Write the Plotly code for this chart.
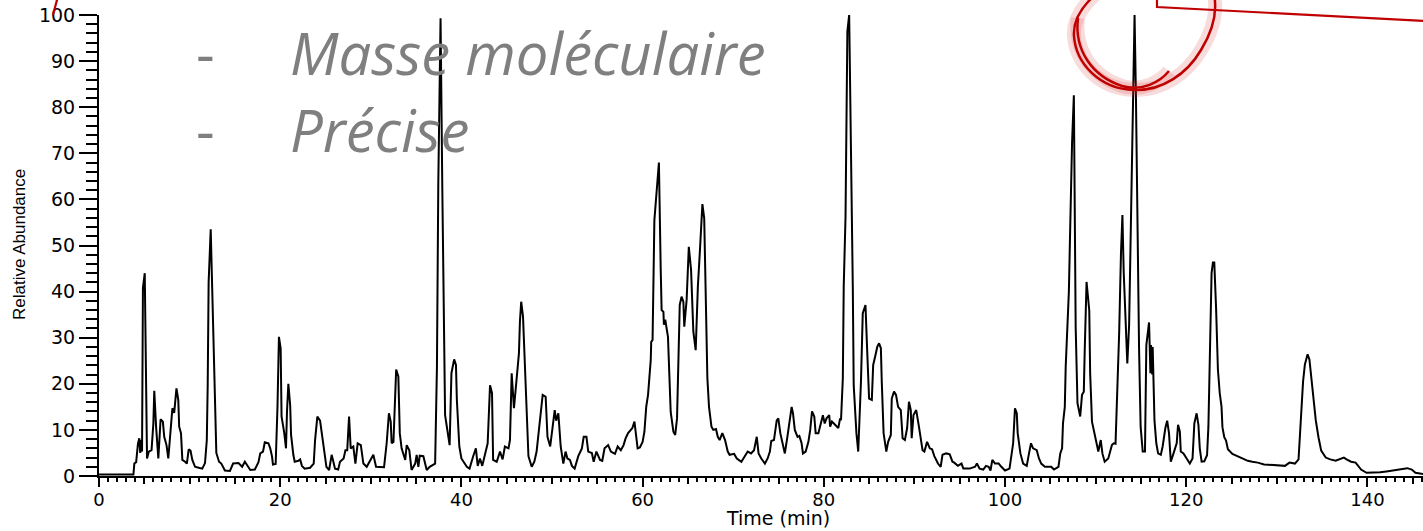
import plotly.graph_objects as go

# ---------------- data ----------------
time_min = [
    0.0, 3.8, 3.9, 4.1, 4.3, 4.45, 4.55, 4.65, 4.75, 4.85, 5.05, 5.3, 5.5, 5.8, 6.0, 6.1, 6.3, 6.55,
    6.8, 7.05, 7.2, 7.45, 7.65, 7.85, 8.1, 8.3, 8.55, 8.75, 8.85, 9.05, 9.2, 9.5, 9.7, 9.9, 10.1,
    10.3, 10.6, 11.0, 11.4, 11.7, 11.9, 12.0, 12.1, 12.33, 12.45, 12.55, 12.7, 12.95, 13.25, 13.5,
    13.9, 14.45, 14.8, 15.4, 15.8, 16.1, 16.3, 16.7, 17.2, 17.6, 17.8, 18.1, 18.3, 18.7, 18.9, 19.1,
    19.2, 19.5, 19.7, 19.86, 20.05, 20.15, 20.45, 20.64, 20.75, 20.9, 21.1, 21.2, 21.45, 21.6, 22.0,
    22.2, 22.4, 22.7, 23.3, 23.7, 23.85, 24.1, 24.4, 24.75, 25.1, 25.4, 25.68, 25.87, 26.05, 26.4,
    26.6, 27.0, 27.2, 27.4, 27.6, 27.78, 28.07, 28.3, 28.55, 28.9, 29.18, 29.55, 29.85, 30.28, 30.58,
    31.0, 31.46, 31.75, 32.0, 32.2, 32.3, 32.5, 32.8, 33.04, 33.1, 33.2, 33.4, 33.8, 33.96, 34.25,
    34.5, 34.9, 35.06, 35.25, 35.4, 35.8, 36.17, 36.5, 37.1, 37.3, 37.45, 37.7, 37.9, 38.08, 38.2,
    38.5, 38.7, 38.9, 39.2, 39.4, 39.5, 39.77, 40.0, 40.6, 40.9, 41.3, 41.6, 41.8, 42.05, 42.3, 42.6,
    42.9, 43.16, 43.38, 43.5, 43.9, 44.26, 44.55, 44.8, 45.2, 45.36, 45.55, 45.8, 46.1, 46.35, 46.46,
    46.6, 46.8, 46.94, 47.2, 47.4, 47.76, 48.05, 48.3, 48.67, 48.97, 49.3, 49.5, 49.8, 50.05, 50.3,
    50.46, 50.7, 50.96, 51.25, 51.5, 51.7, 51.98, 52.2, 52.5, 52.9, 53.3, 53.5, 53.8, 54.0, 54.4,
    54.6, 54.9, 55.3, 55.55, 55.8, 56.2, 56.5, 56.95, 57.25, 57.6, 57.9, 58.13, 58.4, 58.7, 58.87,
    59.1, 59.45, 59.7, 60.0, 60.2, 60.4, 60.6, 60.9, 60.95, 61.1, 61.3, 61.6, 61.8, 62.0, 62.1, 62.3,
    62.35, 62.5, 62.8, 63.1, 63.4, 63.6, 63.8, 64.1, 64.3, 64.5, 64.6, 64.86, 65.1, 65.35, 65.6,
    65.86, 66.1, 66.35, 66.6, 66.8, 66.97, 67.15, 67.33, 67.6, 67.8, 68.1, 68.3, 68.5, 68.8, 69.1,
    69.4, 69.6, 70.1, 70.4, 70.9, 71.3, 71.6, 71.97, 72.3, 72.6, 72.8, 73.1, 73.5, 73.8, 74.05, 74.2,
    74.5, 74.8, 74.98, 75.2, 75.45, 75.7, 75.98, 76.2, 76.45, 76.6, 76.8, 77.1, 77.3, 77.55, 77.7,
    78.0, 78.3, 78.5, 78.7, 78.95, 79.1, 79.4, 79.6, 79.9, 80.1, 80.3, 80.6, 80.7, 80.9, 81.2, 81.6,
    81.8, 81.9, 82.1, 82.2, 82.4, 82.6, 82.8, 83.0, 83.2, 83.3, 83.6, 83.8, 84.1, 84.3, 84.6, 84.8,
    85.0, 85.3, 85.45, 85.7, 85.9, 86.1, 86.3, 86.4, 86.6, 86.9, 87.1, 87.4, 87.5, 87.75, 87.97, 88.2,
    88.5, 88.7, 88.95, 89.2, 89.4, 89.6, 89.7, 89.9, 90.2, 90.5, 90.8, 90.9, 91.1, 91.4, 91.7, 91.95,
    92.2, 92.6, 92.9, 93.1, 93.5, 93.9, 94.2, 94.4, 94.8, 95.2, 95.4, 96.1, 96.7, 96.9, 97.2, 97.6,
    97.9, 98.2, 98.4, 98.6, 98.9, 99.3, 99.6, 100.0, 100.5, 100.9, 101.1, 101.3, 101.4, 101.7, 102.0,
    102.4, 102.65, 102.87, 103.1, 103.5, 103.75, 104.0, 104.4, 104.8, 105.1, 105.4, 105.9, 106.1,
    106.3, 106.4, 106.6, 106.7, 106.9, 107.05, 107.2, 107.4, 107.6, 107.7, 107.8, 108.0, 108.3, 108.5,
    108.7, 108.8, 109.0, 109.3, 109.4, 109.6, 109.8, 110.05, 110.3, 110.57, 110.75, 111.0, 111.4,
    111.8, 112.0, 112.2, 112.4, 112.6, 112.8, 112.96, 113.1, 113.25, 113.5, 113.7, 113.9, 114.1,
    114.3, 114.45, 114.6, 114.8, 114.97, 115.2, 115.45, 115.6, 115.9, 116.05, 116.12, 116.25, 116.3,
    116.4, 116.5, 116.7, 116.9, 117.2, 117.4, 117.7, 117.9, 118.1, 118.3, 118.6, 118.8, 118.95, 119.1,
    119.3, 119.4, 119.7, 120.05, 120.4, 120.7, 120.9, 121.15, 121.35, 121.5, 121.7, 122.0, 122.3,
    122.45, 122.6, 122.8, 122.95, 123.1, 123.3, 123.5, 123.7, 123.9, 124.0, 124.2, 124.4, 124.6,
    125.1, 125.6, 126.2, 126.8, 127.3, 127.9, 128.6, 129.4, 130.1, 130.9, 131.4, 132.0, 132.4, 132.6,
    132.9, 133.1, 133.4, 133.6, 133.8, 134.0, 134.3, 134.6, 134.9, 135.4, 135.9, 136.5, 136.9, 137.4,
    137.7, 138.2, 138.7, 139.3, 139.9, 140.6, 141.4, 142.1, 142.9, 143.6, 144.4, 144.9, 145.3, 146.2,
]
relative_abundance = [
    0.3, 0.3, 2.7, 3.0, 7.0, 8.2, 5.0, 7.8, 5.3, 40.8, 44.0, 3.8, 5.3, 5.6, 11.4, 18.5, 10.7, 3.8,
    12.3, 11.8, 8.5, 6.7, 3.8, 9.3, 14.7, 13.7, 19.0, 16.5, 10.7, 9.3, 3.5, 3.1, 2.7, 5.8, 5.5,
    3.5, 2.0, 1.8, 1.6, 2.8, 7.8, 20.0, 42.0, 53.5, 43.0, 34.9, 23.7, 5.0, 3.1, 2.7,
    1.2, 1.1, 2.7, 2.8, 2.0, 3.1, 2.5, 1.3, 1.4, 3.0, 4.9, 5.3, 7.3, 7.1, 6.0, 4.2,
    2.5, 2.6, 15.0, 30.2, 27.7, 12.9, 9.3, 6.0, 14.0, 20.0, 15.4, 8.9, 4.6, 3.1, 3.3,
    3.6, 2.2, 1.6, 1.8, 2.7, 7.8, 12.9, 12.0, 6.4, 2.0, 1.3, 4.6, 3.1, 1.6, 1.4,
    3.1, 3.8, 5.6, 5.6, 12.9, 6.0, 6.4, 2.7, 7.1, 6.7, 2.7, 2.0, 3.1, 4.6, 2.0,
    1.9, 1.9, 7.1, 13.6, 11.8, 7.1, 7.4, 23.1, 21.6, 12.9, 9.3, 6.0, 3.5, 6.7, 5.6,
    1.3, 2.7, 4.6, 2.0, 4.4, 4.3, 1.3, 2.0, 2.7, 23.7, 63.5, 99.3, 61.3, 34.6, 13.2,
    9.3, 6.7, 22.3, 25.3, 24.1, 16.5, 6.4, 3.8, 2.0, 1.6, 4.3, 6.0, 2.2, 3.8, 2.2, 5.0,
    7.1, 19.7, 18.0, 3.5, 3.1, 5.3, 3.6, 6.4, 6.0, 7.8, 22.3, 14.7, 22.3, 26.6, 33.5,
    37.8, 34.6, 26.6, 15.7, 4.3, 2.0, 3.1, 5.3, 12.5, 17.6, 17.2, 8.5, 6.4, 10.0, 14.3,
    12.0, 13.6, 6.4, 2.7, 5.3, 3.8, 3.5, 2.2, 1.6, 4.3, 6.0, 8.5, 8.5, 5.3, 5.0,
    3.1, 5.3, 3.5, 3.3, 6.0, 6.7, 5.3, 4.8, 6.4, 5.6, 6.7, 8.2, 9.3, 10.0, 10.4,
    11.8, 6.0, 6.2, 7.4, 9.6, 15.0, 17.6, 25.2, 29.1, 29.5, 55.5, 63.9, 68.0, 44.7, 36.0, 35.6,
    32.8, 33.9, 30.2, 13.9, 9.6, 8.9, 12.5, 37.1, 38.9, 37.8, 32.4, 38.2, 49.7, 44.7, 31.3,
    27.3, 41.1, 49.7, 59.0, 55.9, 41.1, 21.2, 15.0, 10.7, 10.0, 10.2, 8.5, 7.8, 9.3, 7.8,
    5.3, 4.6, 4.8, 3.8, 3.1, 4.3, 5.3, 4.9, 5.6, 8.5, 4.9, 3.8, 2.7, 3.8, 5.3, 7.6,
    7.8, 12.0, 12.5, 9.3, 6.7, 4.9, 8.5, 11.4, 15.0, 13.6, 10.0, 8.5, 8.7, 7.1, 4.9,
    5.3, 7.4, 10.0, 14.0, 12.9, 9.3, 9.3, 11.1, 13.2, 11.4, 12.5, 13.2, 10.7, 11.8, 11.1, 10.4,
    12.5, 12.1, 21.2, 41.1, 56.4, 96.4, 100.0, 74.3, 41.1, 19.7, 9.3, 5.3, 20.4, 35.3, 37.1, 26.6,
    16.8, 16.5, 24.1, 26.2, 28.0, 28.8, 27.7, 20.4, 9.3, 5.3, 7.4, 8.9, 16.8, 18.3, 17.6, 15.0,
    14.3, 8.2, 7.8, 10.4, 16.1, 14.3, 8.2, 13.2, 14.3, 10.7, 7.1, 5.6, 5.3, 7.4, 6.0, 5.8,
    4.3, 2.7, 2.0, 4.6, 4.9, 4.7, 3.1, 2.9, 2.2, 2.7, 1.6, 1.6, 2.0, 2.7, 1.6, 1.4,
    2.2, 2.0, 1.2, 3.5, 2.7, 2.7, 2.0, 1.2, 1.6, 7.1, 14.7, 13.6, 9.3, 4.9, 2.7,
    2.2, 4.9, 7.1, 6.0, 5.6, 3.8, 2.7, 2.0, 2.0, 2.0, 1.4, 2.0, 4.9,
    6.0, 11.4, 15.0, 23.7, 33.8, 40.0, 54.1, 72.2, 82.6, 56.2, 32.4, 15.8, 12.9, 17.6,
    18.3, 27.3, 42.1, 35.9, 22.3, 11.8, 10.0, 7.1, 5.3, 7.8, 4.9, 3.1, 3.8,
    6.7, 7.1, 7.0, 17.6, 31.0, 48.3, 56.6, 44.3, 34.9, 24.4, 32.8, 54.1, 83.3,
    100.0, 82.6, 53.4, 27.3, 10.7, 5.3, 5.3, 28.4, 33.3, 22.3, 28.4, 22.0, 28.0,
    15.0, 12.0, 7.1, 4.9, 4.6, 6.4, 10.4, 12.0, 9.3, 3.1, 4.9, 6.0, 7.1, 11.1,
    9.6, 5.3, 4.9, 3.8, 2.7, 3.8, 11.4, 13.6, 11.1, 6.0, 3.1, 3.2, 4.5,
    10.7, 25.2, 44.0, 46.3, 46.3, 36.3, 23.1, 18.0, 15.0, 10.6, 8.4, 7.7, 5.8,
    4.8, 4.4, 3.8, 3.3, 3.1, 2.9, 2.5, 2.4, 2.2, 2.2, 2.9, 2.7, 3.6, 11.3,
    20.5, 24.2, 26.4, 25.3, 21.6, 16.5, 12.1, 8.4, 5.5, 4.0, 3.6, 3.3, 3.6, 4.0,
    3.6, 3.1, 2.9, 1.4, 0.7, 0.7, 0.8, 1.0, 1.2, 1.4, 1.7, 1.4, 0.7, 0.4,
]

y_ticks = [0, 10, 20, 30, 40, 50, 60, 70, 80, 90, 100]
x_ticks = list(range(0, 146, 5))
x_labels = {0: "0", 20: "20", 40: "40", 60: "60", 80: "80", 100: "100", 120: "120", 140: "140"}
x_text = [x_labels.get(v, "") for v in x_ticks]
x_major = [0, 20, 40, 60, 80, 100, 120, 140]

slide_lines = ["Masse moléculaire", "Précise"]

# ---------------- layout geometry ----------------
W, H = 1423, 531
L, R, T, B = 99, 0, 15, 55
PW, PH = W - L - R, H - T - B


def px(x):
    return (x - L) / PW


def py(y):
    return (H - B - y) / PH


def path(points_cmds):
    out = []
    for cmd, pts in points_cmds:
        coords = " ".join(f"{px(a):.5f},{py(b):.5f}" for a, b in pts)
        out.append(f"{cmd}{coords}")
    return " ".join(out)


fig = go.Figure()
fig.add_trace(go.Scatter(
    x=time_min, y=relative_abundance, mode="lines",
    line=dict(color="black", width=2), hoverinfo="skip", showlegend=False,
))
fig.add_trace(go.Scatter(x=[None], y=[None], xaxis="x2", showlegend=False))

tickfont = dict(family="DejaVu Sans", size=18, color="black")
fig.update_layout(
    width=W, height=H,
    margin=dict(l=L, r=R, t=T, b=B, pad=0),
    paper_bgcolor="white", plot_bgcolor="white",
    xaxis=dict(
        range=[0, PW / 9.06], tickvals=x_ticks, ticktext=x_text,
        ticks="outside", ticklen=6, tickwidth=2, tickcolor="black",
        minor=dict(dtick=1, ticklen=4, tickwidth=1.5, tickcolor="black", ticks="outside"),
        showline=True, linecolor="black", linewidth=2,
        showgrid=False, zeroline=False, tickfont=tickfont,
    ),
    xaxis2=dict(
        range=[0, PW / 9.06], overlaying="x", anchor="y", side="bottom",
        tickvals=x_major, ticks="outside", ticklen=10, tickwidth=2, tickcolor="black",
        showticklabels=False, showline=False, showgrid=False, zeroline=False,
    ),
    yaxis=dict(
        range=[0, 100], tickvals=y_ticks,
        ticks="outside", ticklen=18, tickwidth=2, tickcolor="black",
        minor=dict(dtick=2, ticklen=11, tickwidth=1.5, tickcolor="black", ticks="outside"),
        showline=True, linecolor="black", linewidth=2,
        showgrid=False, zeroline=False, tickfont=dict(family="DejaVu Sans", size=19, color="black"),
    ),
)

annotations = [
    dict(text="Time (min)", x=px(778), y=py(531), xref="paper", yref="paper",
         xanchor="center", yanchor="bottom", showarrow=False,
         font=dict(family="DejaVu Sans", size=19, color="black")),
    dict(text="Relative Abundance", x=px(19), y=py(245), xref="paper", yref="paper",
         xanchor="center", yanchor="middle", showarrow=False, textangle=-90,
         font=dict(family="Liberation Sans", size=17, color="black")),
]
grey = "#7f7f7f"
for txt, yc in zip(slide_lines, [53, 129]):
    annotations.append(dict(text="-", x=px(205), y=py(yc), xref="paper", yref="paper",
                            xanchor="center", yanchor="middle", showarrow=False,
                            font=dict(family="Open Sans", size=58, color=grey)))
    annotations.append(dict(text=txt, x=px(288), y=py(yc), xref="paper", yref="paper",
                            xanchor="left", yanchor="middle", showarrow=False,
                            font=dict(family="Open Sans", size=58, color=grey, style="italic")))
fig.update_layout(annotations=annotations)

red = "#c00000"
glow = "rgba(210,40,40,0.16)"
outer = [("M", [(1096, -6)]),
         ("C", [(1080, 8), (1073, 22), (1074, 36)]),
         ("C", [(1076, 64), (1100, 89), (1134, 90)]),
         ("C", [(1162, 91), (1187, 74), (1201, 50)]),
         ("C", [(1212, 32), (1216, 15), (1215, 2)]),
         ("C", [(1215, -3), (1213, -7), (1210, -10)])]
inner = [("M", [(1078, 18)]),
         ("C", [(1074, 50), (1092, 76), (1122, 86)]),
         ("C", [(1142, 92), (1160, 82), (1169, 71)])]
box_line = [("M", [(1157, -2)]), ("L", [(1157, 7)]), ("L", [(1425, 21)])]
corner_line = [("M", [(53, 15)]), ("L", [(57.5, -2)])]

shapes = []
for p in (outer, inner):
    shapes.append(dict(type="path", path=path(p), xref="paper", yref="paper",
                       line=dict(color=glow, width=14), layer="above"))
for p in (outer, inner):
    shapes.append(dict(type="path", path=path(p), xref="paper", yref="paper",
                       line=dict(color=red, width=2.5), layer="above"))
for p in (box_line, corner_line):
    shapes.append(dict(type="path", path=path(p), xref="paper", yref="paper",
                       line=dict(color=red, width=2.2), layer="above"))
fig.update_layout(shapes=shapes)

fig.write_html("out.html")
